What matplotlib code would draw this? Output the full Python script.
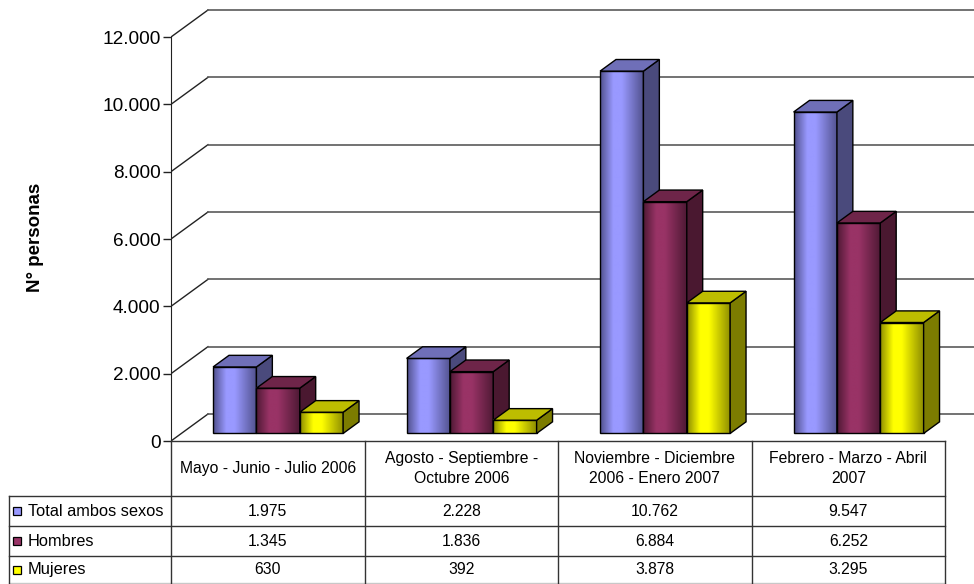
import numpy as np
import matplotlib
matplotlib.use("Agg")
import matplotlib.pyplot as plt
from matplotlib.colors import LinearSegmentedColormap
from matplotlib.patches import Polygon, Rectangle
from matplotlib.lines import Line2D
from matplotlib.transforms import blended_transform_factory
from matplotlib.ticker import FixedLocator, FuncFormatter

plt.rcParams['font.family'] = ['Liberation Sans', 'DejaVu Sans']

# ---------------- data ----------------
categories = ["Mayo - Junio - Julio 2006",
              "Agosto - Septiembre -\nOctubre 2006",
              "Noviembre - Diciembre\n2006 - Enero 2007",
              "Febrero - Marzo - Abril\n2007"]
series_names = ["Total ambos sexos", "Hombres", "Mujeres"]
total = [1975, 2228, 10762, 9547]
hombres = [1345, 1836, 6884, 6252]
mujeres = [630, 392, 3878, 3295]
y_ticks = [0, 2000, 4000, 6000, 8000, 10000, 12000]
y_label = "N° personas"

series = [total, hombres, mujeres]
# (front edge, front peak, side, top, legend)
palettes = [
    ("#50508c", "#9999ff", "#4a4a7c", "#6f6fb8", "#9999ff"),
    ("#4e1934", "#993366", "#4a1830", "#6e2549", "#993366"),
    ("#8c8c00", "#ffff00", "#7c7c00", "#bdbd00", "#ffff00"),
]

# ---------------- layout ----------------
W, H = 974, 584
fig = plt.figure(figsize=(W / 100, H / 100), dpi=100)
x0px, colw = 171, 193.5
y0px, ytoppx = 441, 37
ymax = max(y_ticks)
ppu = (y0px - ytoppx) / ymax
ax = fig.add_axes([x0px / W, (H - y0px) / H, (W - x0px) / W, y0px / H])
xmax = (W - x0px) / colw
ylim_top = y0px / ppu

DX = 37 / colw          # wall depth in category units
DY = 27 / ppu           # wall depth in value units
f0, f1 = 0.28, 0.71     # bar depth fractions
bw = 0.224              # bar width

# walls / gridlines
for v in y_ticks:
    ax.add_line(Line2D([0, DX], [v, v + DY], color="#222222", lw=1.0, zorder=1))
    ax.add_line(Line2D([DX, xmax], [v + DY, v + DY], color="#5a5a5a", lw=1.2, zorder=1))

# bars
z = 2
for c in range(len(categories)):
    for i, vals in enumerate(series):
        v = vals[c]
        edge, peak, side, top, _ = palettes[i]
        l = c + 0.5 - 1.5 * bw + i * bw + f0 * DX
        r = l + bw
        b = f0 * DY
        t = v + f0 * DY
        dx = (f1 - f0) * DX
        dy = (f1 - f0) * DY
        cm = LinearSegmentedColormap.from_list(
            "g", [(0, edge), (0.3, peak), (0.5, peak), (1, edge)])
        grad = np.linspace(0, 1, 128)[np.newaxis, :]
        ax.imshow(grad, extent=[l, r, b, t], cmap=cm, aspect="auto",
                  interpolation="bilinear", zorder=z)
        ax.add_patch(Rectangle((l, b), bw, v, fill=False, ec="black", lw=1.0, zorder=z + 0.1))
        ax.add_patch(Polygon([(r, b), (r + dx, b + dy), (r + dx, t + dy), (r, t)],
                             closed=True, fc=side, ec="black", lw=1.0, zorder=z + 0.1))
        ax.add_patch(Polygon([(l, t), (r, t), (r + dx, t + dy), (l + dx, t + dy)],
                             closed=True, fc=top, ec="black", lw=1.0, zorder=z + 0.1))
        z += 1

ax.set_xlim(0, xmax)
ax.set_ylim(0, ylim_top)
for s in ["top", "right", "bottom"]:
    ax.spines[s].set_visible(False)
ax.spines["left"].set_bounds(0, ymax)
ax.spines["left"].set_color("#222222")
ax.set_xticks([])
ax.yaxis.set_major_locator(FixedLocator(y_ticks))
ax.yaxis.set_major_formatter(FuncFormatter(lambda v, p: f"{int(v):,}".replace(",", ".")))
ax.tick_params(axis="y", length=6, width=1, color="#222222", labelsize=13.7, pad=1.5)
ax.patch.set_alpha(0)

fig.text(35 / W, 1 - 237 / H, y_label, rotation=90, ha="center", va="center",
         fontsize=13.5, fontweight="bold")

# ---------------- data table ----------------
tr = blended_transform_factory(ax.transData, fig.transFigure)
def fy(px):
    return 1 - px / H

ncat = len(categories)
xl = (9 - x0px) / colw
lc = "#333333"
row_tops = [441, 496, 526, 556, 583]

def hline(x1, x2, ypx, color=lc):
    ax.add_line(Line2D([x1, x2], [fy(ypx), fy(ypx)], transform=tr, color=color,
                       lw=1.0, clip_on=False, zorder=10))

def vline(x, y1, y2):
    ax.add_line(Line2D([x, x], [fy(y1), fy(y2)], transform=tr, color=lc,
                       lw=1.0, clip_on=False, zorder=10))

hline(0, ncat, row_tops[0])
for ypx in row_tops[1:4]:
    hline(xl, ncat, ypx)
hline(xl, ncat, row_tops[4], color="#c8c8c8")
for c in range(ncat + 1):
    vline(c, row_tops[0], H)
vline(xl, row_tops[1], H)

for c, cat in enumerate(categories):
    ax.text(c + 0.5, fy((row_tops[0] + row_tops[1]) / 2), cat, transform=tr,
            ha="center", va="center", fontsize=11.3, linespacing=1.4, clip_on=False)

for i, (name, vals) in enumerate(zip(series_names, series)):
    yc = (row_tops[i + 1] + row_tops[i + 2]) / 2
    for c in range(ncat):
        ax.text(c + 0.5, fy(yc), f"{vals[c]:,}".replace(",", "."), transform=tr,
                ha="center", va="center", fontsize=11.3, clip_on=False)
    fig.patches.append(Rectangle((13 / W, fy(yc + 4)), 8 / W, 8 / H,
                                 transform=fig.transFigure, fc=palettes[i][4],
                                 ec="black", lw=0.9))
    fig.text(28 / W, fy(yc), name, ha="left", va="center", fontsize=11.8)

fig.savefig("out.png", dpi=100)
